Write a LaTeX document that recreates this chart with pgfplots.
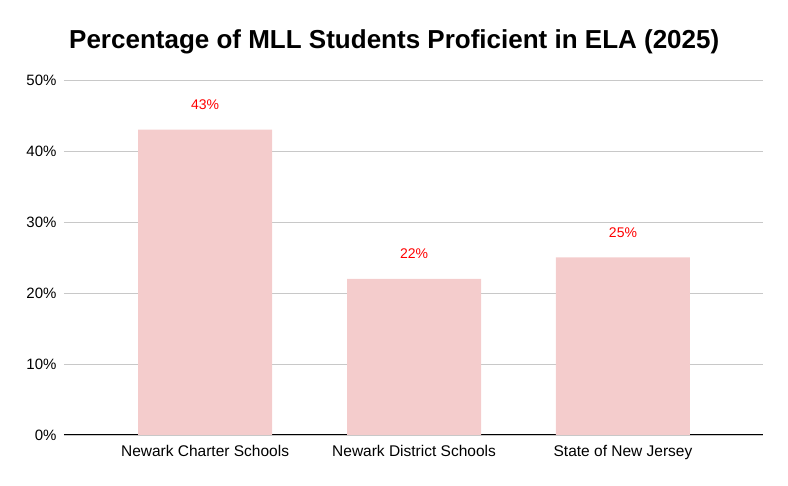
\documentclass[border=0pt]{standalone}
\usepackage{pgfplots}
\pgfplotsset{compat=1.18}
\usepackage{fontspec}
\setmainfont{Liberation Sans}
\definecolor{barpink}{HTML}{F4CCCC}
\definecolor{gridgray}{HTML}{C8C8C8}
\begin{document}
\begin{tikzpicture}[x=1pt,y=1pt]
\path (0,0) rectangle (788,486);
\node[font=\bfseries\fontsize{26}{30}\selectfont, anchor=base west, inner sep=0pt] at (69,437.5) {Percentage of MLL Students Proficient in ELA (2025)};
\begin{axis}[at={(64pt,51pt)}, anchor=south west, scale only axis,
  width=699pt, height=355pt,
  xmin=-0.675, xmax=2.67, ymin=0, ymax=50,
  ytick={0,10,20,30,40,50},
  yticklabel={\pgfmathprintnumber{\tick}\%},
  xtick={0,1,2},
  xticklabels={Newark Charter Schools, Newark District Schools, State of New Jersey},
  separate axis lines,
  axis x line*=bottom, axis y line*=left,
  x axis line style={black, line width=1pt, -},
  y axis line style={draw=none},
  major tick length=0pt,
  ymajorgrids, grid style={gridgray, line width=0.8pt},
  tick label style={font=\fontsize{15}{18}\selectfont},
  xticklabel style={font=\fontsize{15.5}{18}\selectfont, yshift=-7pt},
  /pgf/number format/assume math mode=true,
  yticklabel style={xshift=-4pt},
  ybar, bar width=134pt,
  nodes near coords={\pgfmathprintnumber{\pgfplotspointmeta}\%},
  nodes near coords style={anchor=base, yshift=20pt, font=\fontsize{14}{17}\selectfont, text=red},
]
\addplot[fill=barpink, draw=none, bar shift=0pt] coordinates {(0,43) (1,22) (2,25)};
\end{axis}
\end{tikzpicture}
\end{document}
